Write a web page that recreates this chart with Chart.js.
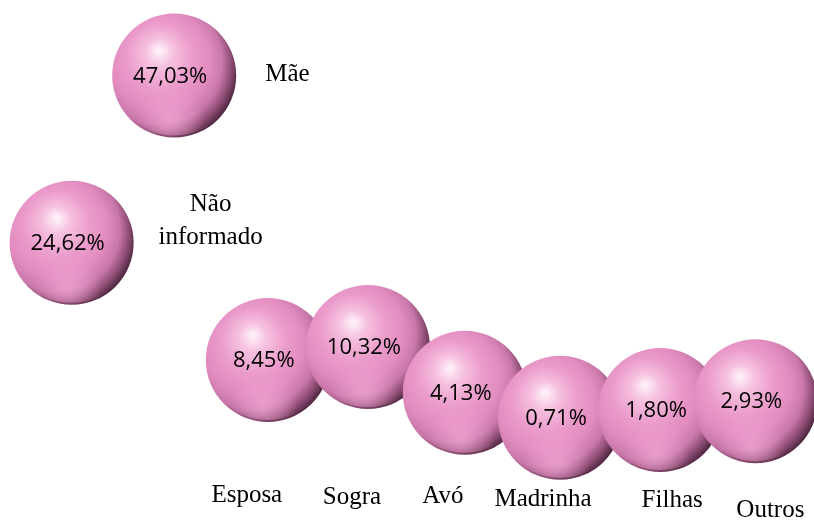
<!DOCTYPE html>
<html>
<head>
<meta charset="utf-8">
<script src="https://cdn.jsdelivr.net/npm/chart.js@4/dist/chart.umd.min.js"></script>
<style>
  html, body { margin: 0; padding: 0; background: #fff; }
  #wrap { width: 814px; height: 521px; }
</style>
</head>
<body>
<div id="wrap"><canvas id="bolhas"></canvas></div>
<script>
// Categorias e percentuais
const categorias = ['Mãe', 'Não informado', 'Esposa', 'Sogra', 'Avó', 'Madrinha', 'Filhas', 'Outros'];
const percentuais = [47.03, 24.62, 8.45, 10.32, 4.13, 0.71, 1.80, 2.93];
// posição das bolhas (escala 0-100 nos dois eixos)
const posX = [21.4, 8.8, 32.9, 45.2, 57.1, 68.8, 81.1, 92.8];
const posY = [85.5, 53.4, 30.9, 33.4, 24.6, 19.8, 21.3, 23.0];

const RAIO = 62;

// rótulo de cada categoria: deslocamento em px a partir do centro da bolha
const rotuloPos = [
  { dx: 91, dy: -1, align: 'left' },
  { dx: 139, dy: -38, align: 'center' },
  { dx: -21, dy: 135 },
  { dx: -16, dy: 150 },
  { dx: -22, dy: 104 },
  { dx: -17, dy: 82 },
  { dx: 12, dy: 90 },
  { dx: 15, dy: 109 }
];

const fmt = v => v.toFixed(2).replace('.', ',') + '%';

function esfera(ctx) {
  const chart = ctx.chart;
  const raw = ctx.raw;
  if (!raw || !chart.scales.x || !chart.scales.y) return '#e58bbf';
  const cx = chart.scales.x.getPixelForValue(raw.x);
  const cy = chart.scales.y.getPixelForValue(raw.y);
  if (!isFinite(cx) || !isFinite(cy)) return '#e58bbf';
  const g = chart.ctx.createRadialGradient(cx - 15, cy - 25, 2, cx - 14, cy - 10, RAIO + 17);
  g.addColorStop(0, '#fdeef7');
  g.addColorStop(0.16, '#f6c0df');
  g.addColorStop(0.4, '#eb9ccb');
  g.addColorStop(0.62, '#e28bbf');
  g.addColorStop(0.78, '#c978aa');
  g.addColorStop(0.9, '#8e4d74');
  g.addColorStop(1, '#4e2540');
  return g;
}

const textos = {
  id: 'textos',
  afterDatasetsDraw(chart) {
    const c = chart.ctx;
    const meta = chart.getDatasetMeta(0);
    c.save();
    meta.data.forEach((pt, i) => {
      // reflexo na parte de baixo da esfera
      const rg = c.createRadialGradient(pt.x - 4, pt.y + 44, 2, pt.x - 4, pt.y + 44, 34);
      rg.addColorStop(0, 'rgba(240,165,210,0.75)');
      rg.addColorStop(1, 'rgba(240,165,210,0)');
      c.beginPath();
      c.arc(pt.x, pt.y, RAIO - 2, 0, Math.PI * 2);
      c.fillStyle = rg;
      c.fill();
    });
    meta.data.forEach((pt, i) => {
      c.fillStyle = '#000';
      c.font = '22px "Open Sans", sans-serif';
      c.textAlign = 'center';
      c.textBaseline = 'middle';
      c.fillText(fmt(percentuais[i]), pt.x - 4, pt.y + 1);

      const p = rotuloPos[i];
      c.font = '25px "Liberation Serif", "Times New Roman", serif';
      c.textAlign = p.align || 'center';
      const partes = categorias[i] === 'Não informado' ? ['Não', 'informado'] : [categorias[i]];
      partes.forEach((t, k) => {
        c.fillText(t, pt.x + p.dx, pt.y + p.dy + k * 33);
      });
    });
    c.restore();
  }
};

new Chart(document.getElementById('bolhas'), {
  type: 'bubble',
  data: {
    labels: categorias,
    datasets: [{
      label: 'Percentual',
      data: posX.map((x, i) => ({ x: x, y: posY[i], v: percentuais[i] })),
      radius: RAIO,
      backgroundColor: esfera,
      borderWidth: 0,
      clip: false
    }]
  },
  options: {
    responsive: true,
    maintainAspectRatio: false,
    animation: false,
    layout: { padding: 0, autoPadding: false },
    plugins: {
      legend: { display: false },
      tooltip: { enabled: false }
    },
    scales: {
      x: { type: 'linear', min: 0, max: 100, display: false },
      y: { type: 'linear', min: 0, max: 100, display: false }
    }
  },
  plugins: [textos]
});
</script>
</body>
</html>
